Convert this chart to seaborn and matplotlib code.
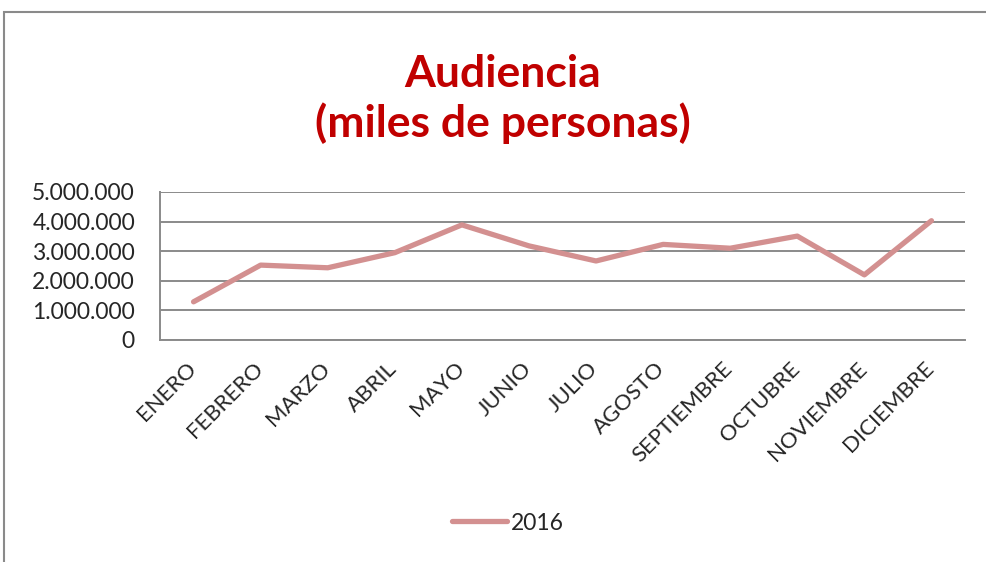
import numpy as np
import pandas as pd
import matplotlib
matplotlib.use("Agg")
import matplotlib.pyplot as plt
import matplotlib.transforms as mtransforms
import seaborn as sns
from matplotlib.ticker import FuncFormatter
from matplotlib.patches import Rectangle
from matplotlib.lines import Line2D

# datos
meses = ["ENERO", "FEBRERO", "MARZO", "ABRIL", "MAYO", "JUNIO", "JULIO",
         "AGOSTO", "SEPTIEMBRE", "OCTUBRE", "NOVIEMBRE", "DICIEMBRE"]
audiencia_2016 = [1290000, 2530000, 2440000, 2950000, 3890000, 3180000, 2670000,
                  3230000, 3100000, 3510000, 2200000, 4030000]
serie = "2016"
y_ticks = [0, 1000000, 2000000, 3000000, 4000000, 5000000]

sns.set_style("white")
plt.rcParams["font.family"] = ["Lato", "DejaVu Sans"]

color_linea = "#D39090"
color_gris = "#8A8A8A"

df = pd.DataFrame({"mes": meses, "valor": audiencia_2016, "serie": serie})
df["pos"] = np.arange(len(meses)) + 0.5

fig = plt.figure(figsize=(9.86, 5.62), dpi=100)
ax = fig.add_axes([160 / 986, 1 - 340 / 562, 805 / 986, 148 / 562])

sns.lineplot(data=df, x="pos", y="valor", hue="serie", palette=[color_linea],
             linewidth=3.8, ax=ax, legend=False, solid_capstyle="round")

ax.set_xlim(0, len(meses))
ax.set_ylim(0, 5000000)
ax.set_yticks(y_ticks)
ax.yaxis.set_major_formatter(FuncFormatter(lambda v, p: f"{int(v):,}".replace(",", ".")))
ax.set_xticks(df["pos"])
ax.set_xticklabels(meses, rotation=45, ha="right", rotation_mode="anchor")
ax.tick_params(axis="y", labelsize=16.5, pad=18, length=0)
ax.tick_params(axis="x", labelsize=16, pad=6, length=0)
# desplazar etiquetas del eje x
desplaza = mtransforms.ScaledTranslation(-0.08, -0.10, fig.dpi_scale_trans)
for lab in ax.get_xticklabels():
    lab.set_transform(lab.get_transform() + desplaza)
ax.set_xlabel("")
ax.set_ylabel("")
ax.grid(axis="y", color=color_gris, linewidth=1.4)
for s in ["top", "right"]:
    ax.spines[s].set_visible(False)
for s in ["left", "bottom"]:
    ax.spines[s].set_color(color_gris)
    ax.spines[s].set_linewidth(1.4)

fig.text(503 / 986, 1 - 99 / 562, "Audiencia\n(miles de personas)", ha="center", va="center",
         fontsize=32, fontweight="bold", color="#C00000", linespacing=1.25)

# leyenda
h = [Line2D([0], [0], color=color_linea, linewidth=3.8, solid_capstyle="round")]
fig.legend(h, [serie], loc="center", bbox_to_anchor=(508 / 986, 1 - 523 / 562), frameon=False,
           fontsize=16.5, handlelength=2.4, handletextpad=0.15)

# marco del gráfico
fig.patches.append(Rectangle((4 / 986, -0.05), 1.1, 1 - 12 / 562 + 0.05, transform=fig.transFigure,
                             fill=False, edgecolor=color_gris, linewidth=1.5))

fig.savefig("out.png", dpi=100)
